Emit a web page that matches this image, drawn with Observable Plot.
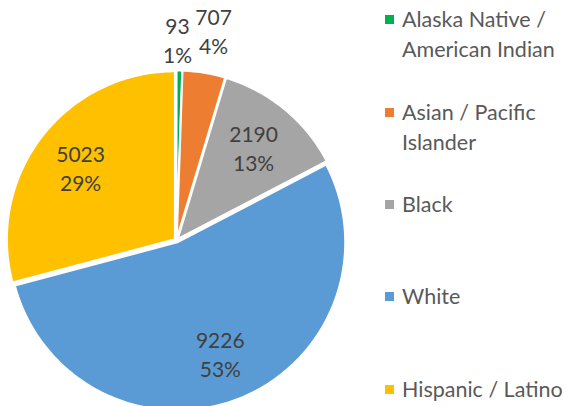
<!DOCTYPE html>
<html>
<head>
<meta charset="utf-8">
<script src="https://cdn.jsdelivr.net/npm/d3@7"></script>
<script src="https://cdn.jsdelivr.net/npm/@observablehq/plot@0.6"></script>
<style>
  body { margin: 0; background: #fff; }
  #wrap { position: relative; width: 566px; height: 406px; overflow: hidden; }
  #legend { position: absolute; left: 385px; top: 0; font-family: Lato, "Open Sans", sans-serif; font-size: 21.5px; color: #595959; }
  .item { position: absolute; left: 0; width: 200px; line-height: 30px; }
  .sw { position: absolute; left: 0; top: 14px; width: 9px; height: 9px; }
  .lab { position: absolute; left: 17px; top: 3px; white-space: nowrap; }
</style>
</head>
<body>
<div id="wrap"><div id="chart"></div><div id="legend"></div></div>
<script>
const categories = ["Alaska Native / American Indian", "Asian / Pacific Islander", "Black", "White", "Hispanic / Latino"];
const legendLines = [["Alaska Native /", "American Indian"], ["Asian / Pacific", "Islander"], ["Black"], ["White"], ["Hispanic / Latino"]];
const values = [93, 707, 2190, 9226, 5023];
const percents = ["1%", "4%", "13%", "53%", "29%"];
const colors = ["#00B050", "#ED7D31", "#A5A5A5", "#5B9BD5", "#FFC000"];

const W = 566, H = 406, CX = 176, CY = 240, R = 168;
const total = d3.sum(values);
const explode = 2 / R;

// build slice polygons
const slicePts = [];
const labels = [];
let cum = 0;
values.forEach((v, i) => {
  const a0 = cum / total * 2 * Math.PI;
  cum += v;
  const a1 = cum / total * 2 * Math.PI;
  const am = (a0 + a1) / 2;
  const ox = explode * Math.sin(am), oy = explode * Math.cos(am);
  const cat = categories[i];
  slicePts.push({cat, x: ox, y: oy});
  const n = Math.max(2, Math.ceil((a1 - a0) / (Math.PI / 180)));
  for (let k = 0; k <= n; k++) {
    const a = a0 + (a1 - a0) * k / n;
    slicePts.push({cat, x: ox + Math.sin(a), y: oy + Math.cos(a)});
  }
  slicePts.push({cat, x: ox, y: oy});
  const frac = v / total;
  const small = frac < 0.05;
  // small slices: labels outside, spread apart so they don't collide
  const rr = small ? (i === 1 ? 1.27 : 1.2) : 0.72;
  const aa = small ? am + (i === 1 ? 0.012 : -0.012) : am;
  labels.push({cat, x: rr * Math.sin(aa), y: rr * Math.cos(aa), text: `${v}\n${percents[i]}`});
});

const chart = Plot.plot({
  width: W, height: H, margin: 0,
  x: {domain: [-CX / R, (W - CX) / R], axis: null},
  y: {domain: [(CY - H) / R, CY / R], axis: null},
  color: {domain: categories, range: colors},
  style: {fontFamily: "Lato, 'Open Sans', sans-serif", background: "#fff"},
  marks: [
    Plot.line(slicePts, {x: "x", y: "y", z: "cat", fill: "cat", stroke: "white", strokeWidth: 2, curve: "linear"}),
    Plot.text(labels, {x: "x", y: "y", text: "text", fontSize: 21, lineHeight: 1.38, fill: "#404040"})
  ]
});
document.getElementById("chart").appendChild(chart);

const leg = document.getElementById("legend");
const tops = [1, 94, 186, 278, 371];
legendLines.forEach((lines, i) => {
  const it = document.createElement("div");
  it.className = "item";
  it.style.top = tops[i] + "px";
  it.innerHTML = `<div class="sw" style="background:${colors[i]}"></div><div class="lab">${lines.join("<br>")}</div>`;
  leg.appendChild(it);
});
</script>
</body>
</html>
